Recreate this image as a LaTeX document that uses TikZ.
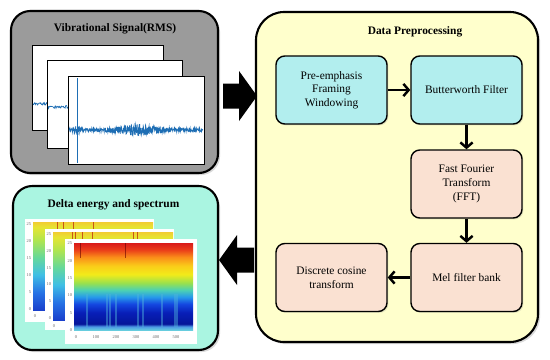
\documentclass[tikz,border=0pt]{standalone}
\usepackage{fontspec}
\setmainfont{Liberation Serif}
\usepackage{tikz}
\usetikzlibrary{arrows.meta, positioning, shadows, calc}
\definecolor{graySignal}{RGB}{155,155,155}
\definecolor{yellowPrep}{RGB}{255,255,204}
\definecolor{mintDelta}{RGB}{170,245,225}
\definecolor{cyanStep}{RGB}{178,238,238}
\definecolor{peachStep}{RGB}{250,225,210}
\definecolor{blueWave}{RGB}{30,110,180}
\definecolor{streakCyan}{RGB}{80,180,220}
\pgfdeclareverticalshading{spectA}{100bp}{rgb(0bp)=(0.40,0.80,0.87); rgb(25bp)=(0.40,0.80,0.87); rgb(27bp)=(0.30,0.60,0.90); rgb(28.5bp)=(0.02,0.08,0.60); rgb(35bp)=(0.03,0.12,0.72); rgb(40bp)=(0.08,0.28,0.88); rgb(44bp)=(0.15,0.60,0.92); rgb(48bp)=(0.30,0.82,0.70); rgb(52bp)=(0.60,0.88,0.30); rgb(57bp)=(0.95,0.92,0.10); rgb(62bp)=(0.98,0.80,0.10); rgb(67bp)=(0.98,0.55,0.10); rgb(71bp)=(0.92,0.25,0.10); rgb(75bp)=(0.85,0.10,0.10); rgb(100bp)=(0.85,0.10,0.10)}
\pgfdeclareverticalshading{spectB}{100bp}{rgb(0bp)=(0.10,0.25,0.80); rgb(25bp)=(0.10,0.25,0.80); rgb(35bp)=(0.15,0.45,0.90); rgb(45bp)=(0.25,0.75,0.90); rgb(55bp)=(0.40,0.85,0.60); rgb(65bp)=(0.70,0.90,0.30); rgb(72bp)=(0.90,0.90,0.20); rgb(75bp)=(0.95,0.80,0.20); rgb(100bp)=(0.95,0.80,0.20)}

\begin{document}
\begin{tikzpicture}[
    bigbox/.style={draw=black, line width=1.2pt, inner sep=0pt, drop shadow={shadow xshift=1.2pt, shadow yshift=-1.2pt, opacity=0.3}},
    titletext/.style={font=\fontsize{6.5}{7.8}\selectfont\bfseries},
    stepbox/.style={draw=black, line width=0.8pt, rounded corners=5pt, minimum width=2.22cm, minimum height=1.36cm, align=center, font=\fontsize{6.5}{7.8}\selectfont, drop shadow={shadow xshift=0.8pt, shadow yshift=-0.8pt, opacity=0.2}},
    arrow/.style={line width=1.4pt, -{Straight Barb[length=3pt, width=7pt]}, draw=black},
    bigarrow/.style={fill=black},
    sigframe/.style={draw=black, line width=0.5pt, fill=white, inner sep=0pt},
    specframe/.style={fill=white, inner sep=0pt},
    specplot/.style={inner sep=0pt, minimum width=2.40cm, minimum height=1.76cm},
    wave/.style={blueWave, line width=0.4pt},
    tick/.style={font=\fontsize{2.5}{3}\selectfont, text=black!60, inner sep=0.3pt}
]
    \useasboundingbox (0,0) rectangle (11,7.18);
    \pgfmathsetseed{7}

    \node[bigbox, fill=graySignal, rounded corners=11pt, minimum width=4.14cm, minimum height=3.24cm] (signal) at (2.29,5.34) {};
    \node[titletext] (signaltitle) at (2.30,6.60) {Vibrational Signal(RMS)};
    \node[bigbox, fill=yellowPrep, rounded corners=16pt, minimum width=5.64cm, minimum height=6.60cm] (prep) at (7.94,3.64) {};
    \node[titletext] (preptitle) at (8.30,6.54) {Data Preprocessing};
    \node[bigbox, fill=mintDelta, rounded corners=11pt, minimum width=4.10cm, minimum height=3.28cm] (delta) at (2.31,1.82) {};
    \node[titletext] (deltatitle) at (2.27,3.08) {Delta energy and spectrum};

    % signal frames
    \node[sigframe, minimum width=2.62cm, minimum height=1.70cm] (sig1) at (1.95,5.43) {};
    \draw[wave] plot[domain=0.66:3.24, samples=250] (\x, {5.10 + 0.025*rand});
    \node[sigframe, minimum width=2.70cm, minimum height=1.76cm] (sig2) at (2.29,5.10) {};
    \draw[wave] plot[domain=0.96:3.62, samples=250] (\x, {5.04 + 0.03*rand});
    \node[sigframe, minimum width=2.72cm, minimum height=1.76cm] (sig3) at (2.72,4.78) {};
    \draw[wave] plot[domain=1.38:4.06, samples=600] (\x, {4.58 + (0.03 + 0.09*exp(-((\x-2.75)^2)/0.2) + 0.07*exp(-((\x-1.55)^2)/0.004))*rand});
    \draw[wave] (1.54,3.92) -- (1.54,5.62);

    % spectrogram frames
    \node[specframe, minimum width=2.58cm, minimum height=2.06cm] (spec1) at (1.79,1.77) {};
    \node[specplot, shading=spectB] (plot1) at (1.86,1.86) {};
    \foreach \sx in {1.14,1.26,1.46,1.86}
        \draw[red!70!black, line width=0.5pt, opacity=0.6] (\sx,2.74) -- (\sx,2.56);
    \foreach \v [count=\k from 0] in {0,5,10,15,20,25}
        \node[tick, anchor=east] (t1y\k) at (0.64,1.00+\k*0.34) {\v};
    \node[tick] (t1x) at (0.70,0.86) {0};

    \node[specframe, minimum width=2.58cm, minimum height=2.02cm] (spec2) at (2.19,1.59) {};
    \node[specplot, shading=spectB] (plot2) at (2.26,1.66) {};
    \foreach \sx in {1.44,1.50,1.64,1.84,2.66,2.74}
        \draw[red!70!black, line width=0.5pt, opacity=0.6] (\sx,2.54) -- (\sx,2.30);
    \foreach \v [count=\k from 0] in {0,5,10,15,20,25}
        \node[tick, anchor=east] (t2y\k) at (1.04,0.82+\k*0.336) {\v};
    \node[tick] (t2x) at (1.08,0.66) {0};

    \node[specframe, minimum width=2.64cm, minimum height=2.10cm] (spec3) at (2.62,1.35) {};
    \node[specplot, shading=spectA, minimum width=2.38cm, minimum height=1.74cm] (plot3) at (2.67,1.45) {};
    \foreach \sx in {1.74,2.14,2.20,2.32,2.76,2.86,3.24,3.50,3.54}
        \draw[streakCyan, line width=0.7pt, opacity=0.45] (\sx,0.64) -- (\sx,1.30);
    \foreach \sx in {1.60,2.50}
        \draw[red!40!black, line width=0.5pt, opacity=0.6] (\sx,2.32) -- (\sx,2.02);
    \foreach \v [count=\k from 0] in {0,5,10,15,20,25}
        \node[tick, anchor=east] (t3y\k) at (1.46,0.58+\k*0.346) {\v};
    \foreach \v [count=\k from 0] in {0,100,200,300,400,500}
        \node[tick] (t3x\k) at (1.52+\k*0.40,0.44) {\v};

    % big arrows
    \fill[bigarrow] ($(signal.east)+(0.08,0.17)$) -- ++(0.32,0) -- ++(0,0.25) -- ++(0.36,-0.5) -- ++(-0.36,-0.5) -- ++(0,0.25) -- ++(-0.32,0) -- cycle;
    \fill[bigarrow] ($(delta.east)+(0,0.16)$) -- ++(0.36,0.5) -- ++(0,-0.25) -- ++(0.34,0) -- ++(0,-0.5) -- ++(-0.34,0) -- ++(0,-0.25) -- cycle;

    \node[stepbox, fill=cyanStep] (preemph) at (6.63,5.38) {Pre-emphasis\\Framing\\Windowing};
    \node[stepbox, fill=cyanStep] (butter) at (9.33,5.38) {Butterworth Filter};
    \node[stepbox, fill=peachStep] (fft) at (9.33,3.50) {Fast Fourier\\Transform\\(FFT)};
    \node[stepbox, fill=peachStep] (mel) at (9.33,1.63) {Mel filter bank};
    \node[stepbox, fill=peachStep] (dct) at (6.63,1.63) {Discrete cosine\\transform};

    \draw[arrow] (preemph) -- (butter);
    \draw[arrow] (butter) -- (fft);
    \draw[arrow] (fft) -- (mel);
    \draw[arrow] (mel) -- (dct);
\end{tikzpicture}
\end{document}
